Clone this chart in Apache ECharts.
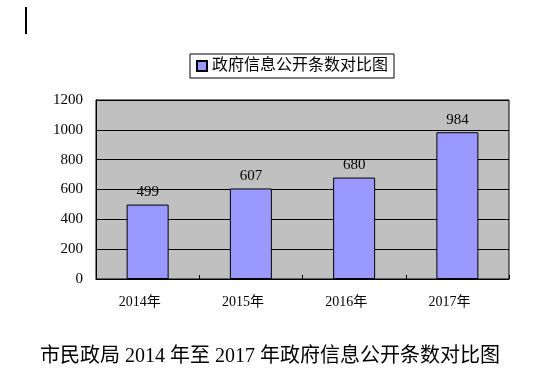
<!DOCTYPE html>
<html><head><meta charset="utf-8">
<script src="https://cdn.jsdelivr.net/npm/echarts@6/dist/echarts.min.js"></script>
<style>html,body{margin:0;padding:0;background:#fff}#c{width:551px;height:377px}</style>
</head><body><div id="c"></div>
<script>
const categories = ['2014年', '2015年', '2016年', '2017年'];
const values = [499, 607, 680, 984];
const seriesName = '政府信息公开条数对比图';
const titleText = '市民政局 2014 年至 2017 年政府信息公开条数对比图';
const yMin = 0, yMax = 1200, yStep = 200;

const FONT = '"Liberation Serif", "Noto Sans CJK SC", serif';
const chart = echarts.init(document.getElementById('c'), null, {renderer: 'canvas'});
chart.setOption({
  animation: false,
  backgroundColor: '#fff',
  title: {
    text: titleText, left: 265, top: 342, textAlign: 'center',
    textStyle: {fontFamily: FONT, fontSize: 20, fontWeight: 'normal', color: '#000'}
  },
  graphic: [{type: 'rect', shape: {x: 25, y: 7, width: 2, height: 27}, style: {fill: '#000'}}],
  legend: {
    data: [seriesName], left: 190, top: 54, padding: [4, 6, 4, 6],
    borderColor: '#000', borderWidth: 1, itemWidth: 10, itemHeight: 10, itemGap: 4,
    icon: 'rect',
    textStyle: {fontFamily: FONT, fontSize: 16, color: '#000', padding: [0, 0, 0, 0]}
  },
  grid: {left: 96, right: 42, top: 100, bottom: 98, show: true, backgroundColor: '#c0c0c0', borderColor: '#000', borderWidth: 1},
  xAxis: {
    type: 'category', data: categories, boundaryGap: true,
    axisLine: {lineStyle: {color: '#000', width: 1}},
    axisTick: {show: true, inside: true, length: 4, lineStyle: {color: '#000'}},
    axisLabel: {fontFamily: FONT, fontSize: 14, color: '#000', margin: 16, padding: [0, 16, 0, 0]}
  },
  yAxis: {
    type: 'value', min: yMin, max: yMax, interval: yStep,
    axisLine: {show: true, lineStyle: {color: '#000'}},
    axisTick: {show: false},
    splitLine: {show: true, lineStyle: {color: '#000', width: 1}},
    axisLabel: {fontFamily: FONT, fontSize: 15, color: '#000', margin: 13, formatter: v => String(v)}
  },
  series: [{
    name: seriesName, type: 'bar', data: values, barWidth: 42,
    itemStyle: {color: '#9999ff', borderColor: '#000', borderWidth: 1},
    label: {show: true, position: 'top', distance: 5, fontFamily: FONT, fontSize: 15, color: '#000'}
  }]
});
</script></body></html>
